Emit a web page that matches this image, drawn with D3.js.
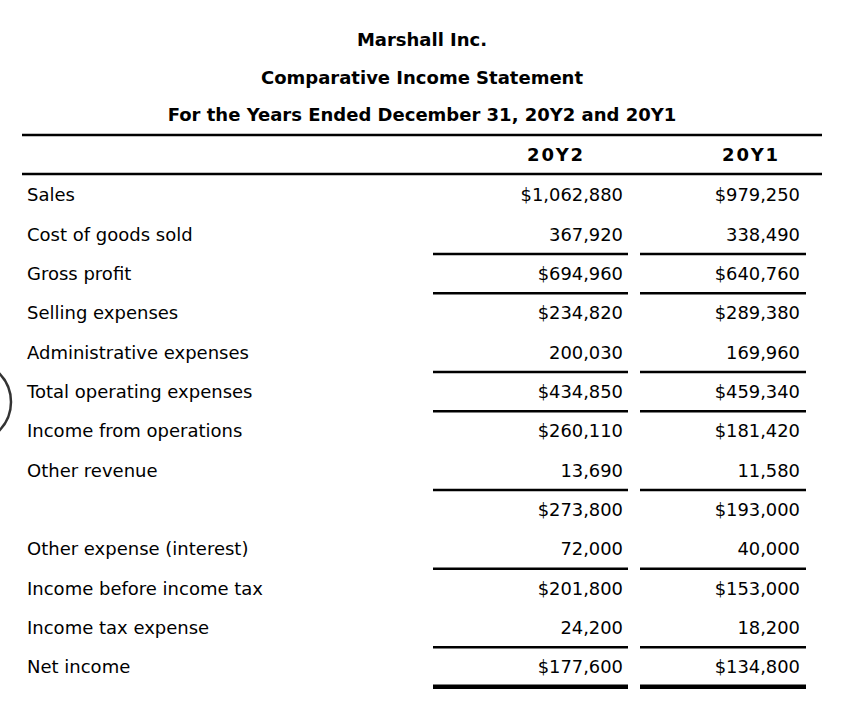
<!DOCTYPE html>
<html>
<head>
<meta charset="utf-8">
<script src="https://cdn.jsdelivr.net/npm/d3@7"></script>
<style>
  body { margin: 0; background: #fff; }
  text { font-family: Verdana, "DejaVu Sans", sans-serif; fill: #000; }
</style>
</head>
<body>
<div id="chart"></div>
<script>
// Title lines
const titles = [
    "Marshall Inc.",
    "Comparative Income Statement",
    "For the Years Ended December 31, 20Y2 and 20Y1"
];

// Column headers
const years = ["20Y2", "20Y1"];

// Row labels (blank row is the subtotal before other expense)
const rowLabels = [
    "Sales",
    "Cost of goods sold",
    "Gross profit",
    "Selling expenses",
    "Administrative expenses",
    "Total operating expenses",
    "Income from operations",
    "Other revenue",
    "",
    "Other expense (interest)",
    "Income before income tax",
    "Income tax expense",
    "Net income"
];

const values20Y2 = [1062880, 367920, 694960, 234820, 200030, 434850, 260110, 13690, 273800, 72000, 201800, 24200, 177600];
const values20Y1 = [979250, 338490, 640760, 289380, 169960, 459340, 181420, 11580, 193000, 40000, 153000, 18200, 134800];

// Which rows show a dollar sign
const dollarRows = [true, false, true, true, false, true, true, false, true, false, true, false, true];

// Rule drawn under a row: 1 = single rule, 2 = double (heavy) rule
const rulesBelow = [0, 1, 1, 0, 1, 1, 0, 1, 0, 1, 0, 1, 2];

const width = 854, height = 714;

const svg = d3.select("#chart")
    .append("svg")
    .attr("width", width)
    .attr("height", height);

// Title block
const titleY = d3.scalePoint().domain(d3.range(titles.length)).range([40, 115]);
svg.selectAll("text.title")
    .data(titles)
    .enter()
    .append("text")
    .attr("class", "title")
    .attr("x", 422)
    .attr("y", (d, i) => titleY(i))
    .attr("dy", "0.35em")
    .attr("text-anchor", "middle")
    .attr("font-size", "18px")
    .attr("font-weight", "bold")
    .text(d => d);

// Header rules
[135, 174].forEach(y => {
    svg.append("line")
        .attr("x1", 22).attr("x2", 822)
        .attr("y1", y).attr("y2", y)
        .attr("stroke", "#000")
        .attr("stroke-width", 2.5);
});

// Columns: right edge of numbers, header centre, rule extent
const colRight = d3.scaleOrdinal().domain(years).range([623, 800]);
const colHead = d3.scaleOrdinal().domain(years).range([556, 751]);
const ruleX = d3.scaleOrdinal().domain(years).range([[433, 628], [640, 806]]);

svg.selectAll("text.year")
    .data(years)
    .enter()
    .append("text")
    .attr("class", "year")
    .attr("x", d => colHead(d))
    .attr("y", 155)
    .attr("dy", "0.35em")
    .attr("text-anchor", "middle")
    .attr("font-size", "18px")
    .attr("font-weight", "bold")
    .attr("letter-spacing", "1.8px")
    .text(d => d);

// Rows
const y = d3.scalePoint().domain(d3.range(rowLabels.length)).range([195, 667]);
const half = y.step() / 2;
const fmtDollar = d3.format("$,");
const fmtPlain = d3.format(",");

svg.selectAll("text.label")
    .data(rowLabels)
    .enter()
    .append("text")
    .attr("class", "label")
    .attr("x", 27)
    .attr("y", (d, i) => y(i))
    .attr("dy", "0.35em")
    .attr("font-size", "18px")
    .text(d => d);

const series = [values20Y2, values20Y1];
years.forEach((yr, c) => {
    const g = svg.append("g");

    g.selectAll("text")
        .data(series[c])
        .enter()
        .append("text")
        .attr("x", colRight(yr))
        .attr("y", (d, i) => y(i))
        .attr("dy", "0.35em")
        .attr("text-anchor", "end")
        .attr("font-size", "17.9px")
        .text((d, i) => dollarRows[i] ? fmtDollar(d) : fmtPlain(d));

    // Underlines
    rulesBelow.forEach((r, i) => {
        if (!r) return;
        g.append("line")
            .attr("x1", ruleX(yr)[0]).attr("x2", ruleX(yr)[1])
            .attr("y1", y(i) + half).attr("y2", y(i) + half)
            .attr("stroke", "#000")
            .attr("stroke-width", r === 2 ? 4.5 : 2.5);
    });
});

// Partial circle at the left edge (page artefact)
svg.append("circle")
    .attr("cx", -30)
    .attr("cy", 402)
    .attr("r", 41)
    .attr("fill", "none")
    .attr("stroke", "#333")
    .attr("stroke-width", 2.5);
</script>
</body>
</html>
